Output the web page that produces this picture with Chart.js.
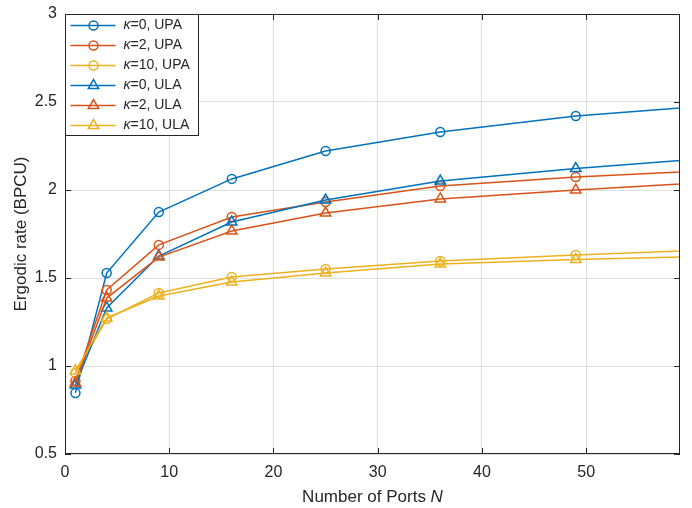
<!DOCTYPE html>
<html>
<head>
<meta charset="utf-8">
<script src="https://cdn.jsdelivr.net/npm/chart.js@4.4.1/dist/chart.umd.min.js"></script>
<style>
  html, body { margin: 0; padding: 0; background: #fff; }
  canvas { display: block; }
</style>
</head>
<body>
<canvas id="chart" width="692" height="508"></canvas>
<script>
// number of ports N (square arrays: 1x1, 2x2, ... 8x8)
const ports = [1, 4, 9, 16, 25, 36, 49, 64];

// ergodic rate in BPCU
const upaK0  = [0.847, 1.528, 1.875, 2.063, 2.222, 2.330, 2.420, 2.489];
const upaK2  = [0.915, 1.432, 1.688, 1.847, 1.932, 2.023, 2.074, 2.116];
const upaK10 = [0.960, 1.267, 1.415, 1.506, 1.551, 1.597, 1.631, 1.664];
const ulaK0  = [0.892, 1.330, 1.625, 1.818, 1.943, 2.051, 2.122, 2.190];
const ulaK2  = [0.903, 1.386, 1.619, 1.767, 1.869, 1.949, 2.000, 2.051];
const ulaK10 = [0.972, 1.273, 1.398, 1.477, 1.528, 1.580, 1.605, 1.626];

const seriesLabels = ['κ=0, UPA', 'κ=2, UPA', 'κ=10, UPA', 'κ=0, ULA', 'κ=2, ULA', 'κ=10, ULA'];

const xTicks = [0, 10, 20, 30, 40, 50];
const xTickLabels = ['0', '10', '20', '30', '40', '50'];
const yTicks = [0.5, 1, 1.5, 2, 2.5, 3];
const yTickLabels = ['0.5', '1', '1.5', '2', '2.5', '3'];

const BLUE = '#0072BD', ORANGE = '#D95319', YELLOW = '#EDB120';
const INK = '#262626';
const FONT = '"Liberation Sans", Arial, Helvetica, sans-serif';

const series = [
  { values: upaK0,  color: BLUE,   marker: 'circle' },
  { values: upaK2,  color: ORANGE, marker: 'circle' },
  { values: upaK10, color: YELLOW, marker: 'circle' },
  { values: ulaK0,  color: BLUE,   marker: 'triangle' },
  { values: ulaK2,  color: ORANGE, marker: 'triangle' },
  { values: ulaK10, color: YELLOW, marker: 'triangle' },
];

const markerSize = { circle: 4.5, triangle: 6 };

const datasets = series.map((s, i) => ({
  label: seriesLabels[i],
  data: ports.map((n, j) => ({ x: n, y: s.values[j] })),
  borderColor: s.color,
  backgroundColor: 'transparent',
  borderWidth: 1.5,
  pointStyle: s.marker,
  pointRadius: markerSize[s.marker],
  pointBorderWidth: 1.5,
  pointBorderColor: s.color,
  pointBackgroundColor: 'transparent',
  tension: 0,
  order: -i, // later series on top
}));

function drawMarker(ctx, style, x, y, r) {
  ctx.beginPath();
  if (style === 'circle') {
    ctx.arc(x, y, r, 0, Math.PI * 2);
  } else {
    for (let k = 0; k < 3; k++) {
      const a = k * 2 * Math.PI / 3;
      const px = x + Math.sin(a) * r, py = y - Math.cos(a) * r;
      k === 0 ? ctx.moveTo(px, py) : ctx.lineTo(px, py);
    }
    ctx.closePath();
  }
  ctx.stroke();
}

// axes box, inward ticks, axis titles and the legend
const framePlugin = {
  id: 'frame',
  afterDraw(chart) {
    const { ctx, chartArea: a, scales: { x, y } } = chart;
    ctx.save();
    ctx.strokeStyle = INK;
    ctx.lineWidth = 1;
    ctx.strokeRect(a.left + 0.5, a.top + 0.5, a.right - a.left - 1, a.bottom - a.top - 1);

    const tl = 6;
    ctx.beginPath();
    xTicks.forEach(v => {
      const px = Math.round(x.getPixelForValue(v)) + 0.5;
      ctx.moveTo(px, a.bottom); ctx.lineTo(px, a.bottom - tl);
      ctx.moveTo(px, a.top); ctx.lineTo(px, a.top + tl);
    });
    yTicks.forEach(v => {
      const py = Math.round(y.getPixelForValue(v)) + 0.5;
      ctx.moveTo(a.left, py); ctx.lineTo(a.left + tl, py);
      ctx.moveTo(a.right, py); ctx.lineTo(a.right - tl, py);
    });
    ctx.stroke();

    // x title with italic N
    ctx.fillStyle = INK;
    ctx.textBaseline = 'alphabetic';
    const normal = '17px ' + FONT, italic = 'italic 17px ' + FONT;
    const t1 = 'Number of Ports ', t2 = 'N';
    ctx.font = normal; const w1 = ctx.measureText(t1).width;
    ctx.font = italic; const w2 = ctx.measureText(t2).width;
    const cx = (a.left + a.right) / 2;
    const tx = cx - (w1 + w2) / 2;
    ctx.font = normal; ctx.textAlign = 'left'; ctx.fillText(t1, tx, 502);
    ctx.font = italic; ctx.fillText(t2, tx + w1, 502);

    // y title
    ctx.save();
    ctx.translate(26, (a.top + a.bottom) / 2);
    ctx.rotate(-Math.PI / 2);
    ctx.font = normal; ctx.textAlign = 'center';
    ctx.fillText('Ergodic rate (BPCU)', 0, 0);
    ctx.restore();

    // legend
    const lx = a.left + 0.5, ly = a.top + 0.5, lw = 133, lh = 121;
    ctx.fillStyle = '#fff';
    ctx.fillRect(lx, ly, lw, lh);
    ctx.strokeStyle = INK;
    ctx.strokeRect(lx, ly, lw, lh);
    ctx.textBaseline = 'middle';
    chart.data.datasets.forEach((ds, i) => {
      const ry = ly + 11 + i * 20;
      ctx.strokeStyle = ds.borderColor;
      ctx.lineWidth = 1.5;
      ctx.beginPath();
      ctx.moveTo(lx + 5, ry); ctx.lineTo(lx + 50, ry);
      ctx.stroke();
      drawMarker(ctx, ds.pointStyle, lx + 28, ry, ds.pointRadius);
      ctx.fillStyle = INK;
      ctx.font = 'italic 14px ' + FONT;
      const k = ds.label.charAt(0), rest = ds.label.slice(1);
      ctx.fillText(k, lx + 58, ry);
      const kw = ctx.measureText(k).width;
      ctx.font = '14px ' + FONT;
      ctx.fillText(rest, lx + 58 + kw, ry);
    });
    ctx.restore();
  }
};

new Chart(document.getElementById('chart'), {
  type: 'line',
  data: { datasets },
  options: {
    responsive: false,
    animation: false,
    devicePixelRatio: 1,
    layout: { padding: { left: 0, top: 14, right: 12, bottom: 0 } },
    plugins: { legend: { display: false }, tooltip: { enabled: false } },
    scales: {
      x: {
        type: 'linear',
        min: 0,
        max: 59,
        afterBuildTicks: s => { s.ticks = xTicks.map(v => ({ value: v })); },
        afterFit: s => { s.height = 54; s.paddingLeft = 0; s.paddingRight = 0; },
        ticks: {
          color: INK, font: { family: FONT, size: 16 }, padding: 9, maxRotation: 0,
          callback: (v, i) => xTickLabels[i],
        },
        grid: { color: '#dfdfdf', drawTicks: false },
        border: { display: false },
      },
      y: {
        type: 'linear',
        min: 0.5,
        max: 3,
        afterBuildTicks: s => { s.ticks = yTicks.map(v => ({ value: v })); },
        afterFit: s => { s.width = 65; s.paddingTop = 0; s.paddingBottom = 0; },
        ticks: {
          color: INK, font: { family: FONT, size: 16 }, padding: 8,
          callback: (v, i) => yTickLabels[i],
        },
        grid: { color: '#dfdfdf', drawTicks: false },
        border: { display: false },
      },
    },
  },
  plugins: [framePlugin],
});
</script>
</body>
</html>
